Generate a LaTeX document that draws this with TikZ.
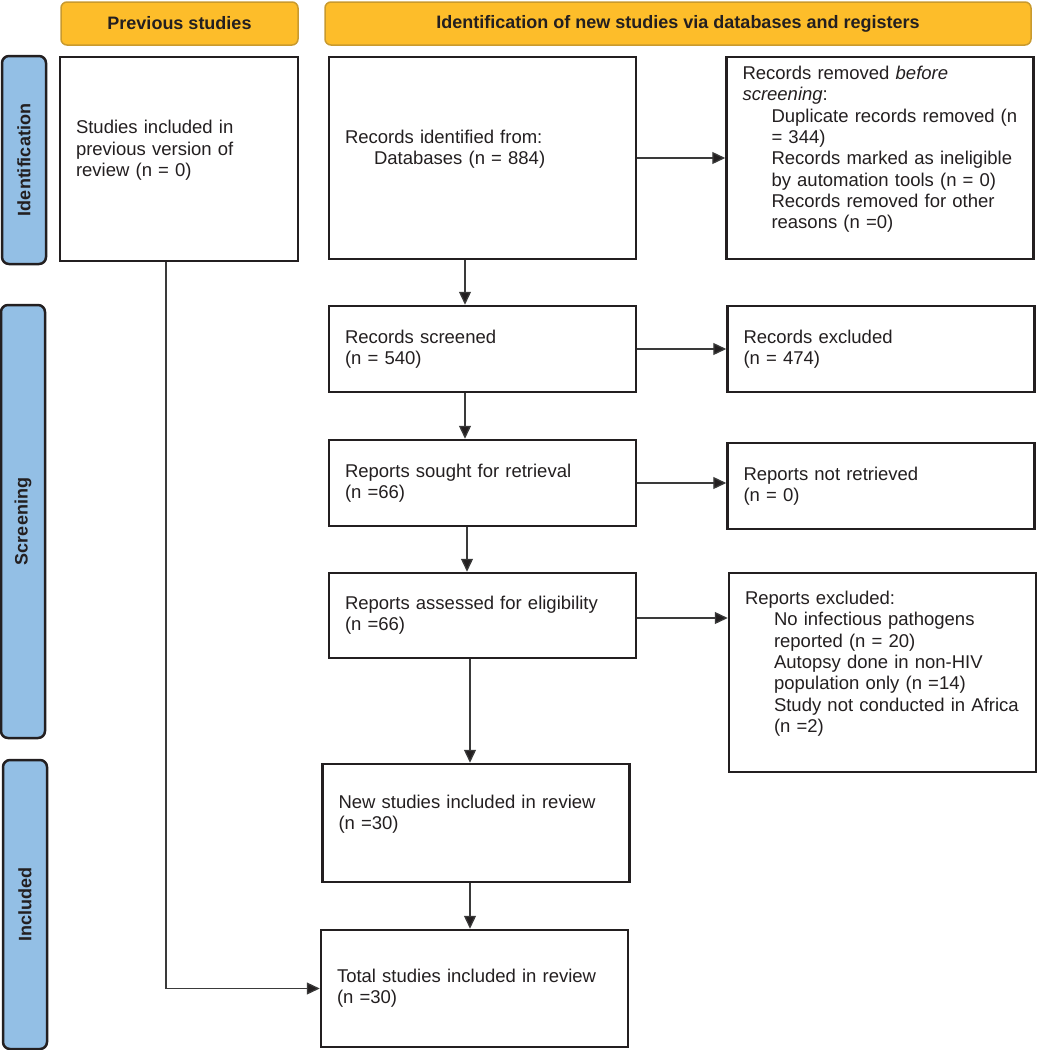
\documentclass[tikz,border=0pt]{standalone}
\usepackage{fontspec}
\setmainfont{Liberation Sans}
\usetikzlibrary{arrows.meta}

\definecolor{ink}{HTML}{231F20}
\definecolor{headfill}{HTML}{FDBD2A}
\definecolor{headline}{HTML}{C99A2E}
\definecolor{sidefill}{HTML}{93BFE5}
\definecolor{wire}{HTML}{3A3A3A}

\begin{document}
\begin{tikzpicture}[x=1pt, y=-1pt,
    stagebox/.style={draw=ink, line width=2.5pt, fill=white, text width=275pt, inner xsep=16pt,
      align=left, minimum height=#1, font=\fontsize{18.5}{21.3}\selectfont, text=ink},
    phasehead/.style={draw=headline, line width=1.5pt, fill=headfill, rounded corners=6pt,
      minimum height=43pt, font=\fontsize{18}{21}\selectfont\bfseries, text=ink},
    phaseside/.style={draw=ink, line width=2.5pt, fill=sidefill, rounded corners=7pt, rotate=90,
      minimum height=44pt, font=\fontsize{18}{21}\selectfont\bfseries, text=ink},
    arr/.style={draw=wire, line width=1.3pt, -{Triangle[length=13pt, width=12pt, fill=ink]}}]
    \useasboundingbox (0,0) rectangle (1037,1050);

    % column headers
    \node[phasehead, minimum width=237pt] (prevhead) at (179.5,23.5) {Previous studies};
    \node[phasehead, minimum width=706pt] (newhead) at (678,23.5) {Identification of new studies via databases and registers};

    % phase labels
    \node[phaseside, minimum width=208pt] (sideid) at (24,160) {Identification};
    \node[phaseside, minimum width=433pt] (sidescr) at (23,521.5) {Screening};
    \node[phaseside, minimum width=289pt] (sideinc) at (25,904.5) {Included};

    % boxes
    \node[stagebox=204pt, text width=206pt] (prev) at (179,159)
      {Studies included in\\previous version of\\review (n = 0)\\ \mbox{}};
    \node[stagebox=202pt] (ident) at (482.5,158)
      {Records identified from:\\\hspace*{29pt}Databases (n = 884)\\ \mbox{}};
    \node[stagebox=202pt] (removed) at (880,158)
      {Records removed \textit{before}\\\textit{screening}:\\
       \hspace*{29pt}Duplicate records removed (n\\\hspace*{29pt}= 344)\\
       \hspace*{29pt}Records marked as ineligible\\\hspace*{29pt}by automation tools (n = 0)\\
       \hspace*{29pt}Records removed for other\\\hspace*{29pt}reasons (n =0)\\ \mbox{}};
    \node[stagebox=86pt] (screened) at (482.5,349) {Records screened\\(n = 540)};
    \node[stagebox=86pt] (recexcl) at (881,349) {Records excluded\\(n = 474)};
    \node[stagebox=86pt] (sought) at (482.5,483) {Reports sought for retrieval\\(n =66)};
    \node[stagebox=86pt] (notretr) at (881,486) {Reports not retrieved\\(n = 0)};
    \node[stagebox=85pt] (assessed) at (482.5,615.5) {Reports assessed for eligibility\\(n =66)};
    \node[stagebox=199pt] (repexcl) at (882.5,672.5)
      {Reports excluded:\\
       \hspace*{29pt}No infectious pathogens\\\hspace*{29pt}reported (n = 20)\\
       \hspace*{29pt}Autopsy done in non-HIV\\\hspace*{29pt}population only (n =14)\\
       \hspace*{29pt}Study not conducted in Africa\\\hspace*{29pt}(n =2)\\ \mbox{}};
    \node[stagebox=118pt] (newinc) at (476,823) {New studies included in review\\(n =30)\\ \mbox{}};
    \node[stagebox=117pt] (total) at (474.5,988.5) {Total studies included in review\\(n =30)};

    % connectors
    \draw[arr] (ident) -- (removed);
    \draw[arr] (screened) -- (recexcl);
    \draw[arr] (sought.east) -- (sought.east -| notretr.west);
    \draw[arr] ([yshift=-2.5pt]assessed.east) -- ([yshift=-2.5pt]assessed.east -| repexcl.west);
    \draw[arr] ([xshift=-17.5pt]ident.south) -- ([xshift=-17.5pt]screened.north);
    \draw[arr] ([xshift=-17.5pt]screened.south) -- ([xshift=-17.5pt]sought.north);
    \draw[arr] ([xshift=-15.5pt]sought.south) -- ([xshift=-15.5pt]assessed.north);
    \draw[arr] ([xshift=-12.5pt]assessed.south) -- ([xshift=-6pt]newinc.north);
    \draw[arr] ([xshift=-6pt]newinc.south) -- ([xshift=-4.5pt]total.north);
    \draw[arr] ([xshift=-13pt]prev.south) |- (total.west);
\end{tikzpicture}
\end{document}
